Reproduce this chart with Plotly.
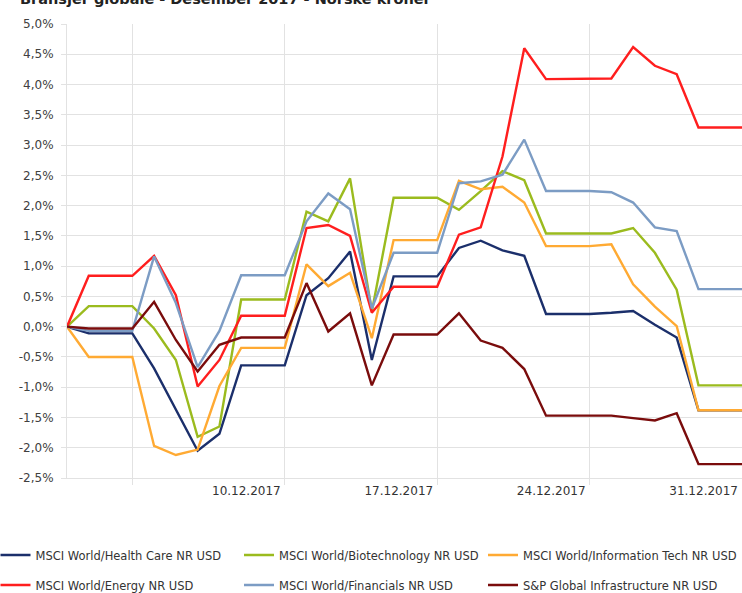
import plotly.graph_objects as go
import pandas as pd

dates = pd.date_range("2017-11-30", "2017-12-31", freq="D").strftime("%Y-%m-%d").tolist()

health_care = [0, -0.11, -0.11, -0.11, -0.69, -1.38, -2.05, -1.77, -0.64, -0.64, -0.64,
               0.52, 0.80, 1.24, -0.55, 0.83, 0.83, 0.83, 1.30, 1.42, 1.26, 1.17,
               0.21, 0.21, 0.21, 0.23, 0.26, 0.03, -0.18, -1.38, -1.38, -1.38]
biotech = [0, 0.34, 0.34, 0.34, -0.03, -0.55, -1.82, -1.65, 0.45, 0.45, 0.45,
           1.90, 1.74, 2.45, 0.25, 2.13, 2.13, 2.13, 1.93, 2.24, 2.57, 2.42,
           1.54, 1.54, 1.54, 1.54, 1.63, 1.22, 0.61, -0.97, -0.97, -0.97]
info_tech = [0, -0.50, -0.50, -0.50, -1.97, -2.12, -2.03, -0.98, -0.35, -0.35, -0.35,
             1.03, 0.67, 0.89, -0.19, 1.43, 1.43, 1.43, 2.41, 2.27, 2.31, 2.05,
             1.33, 1.33, 1.33, 1.36, 0.70, 0.33, 0.01, -1.38, -1.38, -1.38]
energy = [0, 0.84, 0.84, 0.84, 1.17, 0.52, -0.99, -0.55, 0.18, 0.18, 0.18,
          1.63, 1.68, 1.50, 0.23, 0.66, 0.66, 0.66, 1.52, 1.64, 2.81, 4.60,
          4.09, 4.09, 4.09, 4.10, 4.62, 4.31, 4.17, 3.29, 3.29, 3.29]
financials = [0, -0.07, -0.07, -0.07, 1.16, 0.39, -0.67, -0.07, 0.85, 0.85, 0.85,
              1.74, 2.20, 1.94, 0.30, 1.22, 1.22, 1.22, 2.37, 2.40, 2.51, 3.09,
              2.24, 2.24, 2.24, 2.22, 2.05, 1.64, 1.58, 0.62, 0.62, 0.62]
infrastructure = [0, -0.03, -0.03, -0.03, 0.41, -0.22, -0.74, -0.30, -0.18, -0.18, -0.18,
                  0.72, -0.08, 0.22, -0.97, -0.13, -0.13, -0.13, 0.22, -0.23, -0.35, -0.70,
                  -1.47, -1.47, -1.47, -1.47, -1.51, -1.55, -1.43, -2.27, -2.27, -2.27]

series_names = ["MSCI World/Health Care NR USD", "MSCI World/Biotechnology NR USD",
                "MSCI World/Information Tech NR USD", "MSCI World/Energy NR USD",
                "MSCI World/Financials NR USD", "S&P Global Infrastructure NR USD"]
series_values = [health_care, biotech, info_tech, energy, financials, infrastructure]
series_colors = ["#1B2F6B", "#9BBB1E", "#FFAA33", "#FF1E1E", "#7C9CC4", "#7A0C0C"]

x_tickvals = ["2017-12-03", "2017-12-10", "2017-12-17", "2017-12-24", "2017-12-31"]
x_ticktext = ["", "10.12.2017", "17.12.2017", "24.12.2017", "31.12.2017"]
y_tickvals = [-2.5, -2.0, -1.5, -1.0, -0.5, 0, 0.5, 1.0, 1.5, 2.0, 2.5, 3.0, 3.5, 4.0, 4.5, 5.0]
y_ticktext = ["-2,5%", "-2,0%", "-1,5%", "-1,0%", "-0,5%", "0,0%", "0,5%", "1,0%", "1,5%",
              "2,0%", "2,5%", "3,0%", "3,5%", "4,0%", "4,5%", "5,0%"]
title_text = "Bransjer globale - Desember 2017 - Norske kroner"

FONT = "DejaVu Sans"
GRID = "#e2e2e2"

W, H = 742, 593
ml, mr, mt, mb = 67, 0, 24, 115
pw, ph = W - ml - mr, H - mt - mb

def px_to_paper_x(px):
    return (px - ml) / pw

def px_to_paper_y(py):
    return (H - mb - py) / ph

# legend slots: (text start px, row centre px)
legend_slots = [(35.5, 555), (279, 555), (523, 555), (35.5, 585), (279, 585), (523, 585)]
legend_ids = ["legend", "legend2", "legend3", "legend4", "legend5", "legend6"]

fig = go.Figure()
for name, vals, col, lg in zip(series_names, series_values, series_colors, legend_ids):
    fig.add_trace(go.Scatter(x=dates, y=vals, mode="lines", name=name,
                             line=dict(color=col, width=2.4), legend=lg))

legend_layout = {}
for lg, (tx, ty) in zip(legend_ids, legend_slots):
    legend_layout[lg] = dict(orientation="h", xanchor="left", yanchor="middle",
                             x=px_to_paper_x(tx - 40), y=px_to_paper_y(ty),
                             itemwidth=30,
                             font=dict(family=FONT, size=11.5, color="#333333"),
                             bgcolor="rgba(0,0,0,0)")

fig.update_layout(
    width=W, height=H, autosize=False,
    margin=dict(l=ml, r=mr, t=mt, b=mb, autoexpand=False),
    paper_bgcolor="white", plot_bgcolor="white",
    font=dict(family=FONT, size=12, color="#404040"),
    xaxis=dict(type="date", range=["2017-11-30", "2017-12-31"],
               tickmode="array", tickvals=x_tickvals, ticktext=x_ticktext,
               ticklabelposition="outside left", ticklabelshift=-3, ticklabelstandoff=2,
               showgrid=True, gridcolor=GRID, gridwidth=1,
               ticks="outside", ticklen=6, tickcolor=GRID,
               showline=True, linecolor=GRID, zeroline=False,
               tickfont=dict(family=FONT, size=12, color="#333333")),
    yaxis=dict(range=[-2.5, 5.0], tickmode="array", tickvals=y_tickvals, ticktext=y_ticktext,
               showgrid=True, gridcolor=GRID, gridwidth=1,
               ticks="outside", ticklen=5, tickcolor=GRID,
               showline=True, linecolor=GRID, zeroline=False,
               ticklabelstandoff=5,
               tickfont=dict(family=FONT, size=12, color="#404040")),
    showlegend=True,
    annotations=[dict(text="<b>" + title_text + "</b>", xref="paper", yref="paper",
                      x=px_to_paper_x(18), xanchor="left",
                      y=px_to_paper_y(-1), yanchor="middle", showarrow=False,
                      font=dict(family=FONT, size=14.5, color="#222222"))],
    **legend_layout,
)

fig.write_html("out.html", config={"displayModeBar": False},
               post_script="document.body.style.margin='0';")
